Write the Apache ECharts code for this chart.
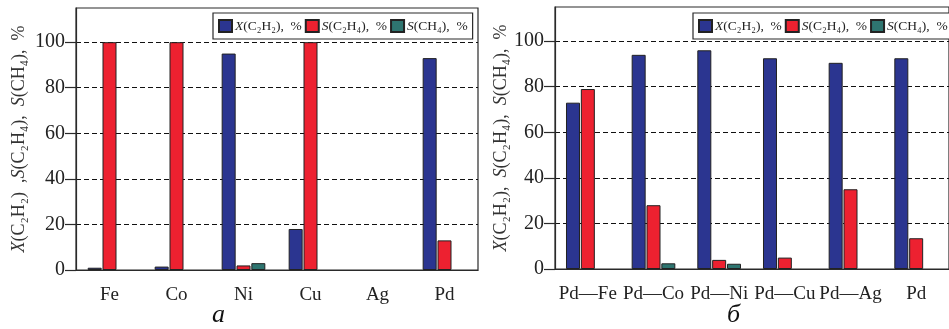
<!DOCTYPE html>
<html>
<head>
<meta charset="utf-8">
<script src="https://cdn.jsdelivr.net/npm/echarts@6/dist/echarts.min.js"></script>
<style>
  html, body { margin: 0; padding: 0; background: #fff; }
  #chart { width: 949px; height: 329px; }
</style>
</head>
<body>
<div id="chart"></div>
<script>
  // категории
  const catsA = ['Fe', 'Co', 'Ni', 'Cu', 'Ag', 'Pd']
  const catsB = ['Pd—Fe', 'Pd—Co', 'Pd—Ni', 'Pd—Cu', 'Pd—Ag', 'Pd']
  // значения (null = столбца нет)
  const xC2H2A = [1, 1.5, 95, 18, null, 93]
  const sC2H4A = [100, 100, 2, 100, null, 13]
  const sCH4A = [null, null, 3, null, null, null]
  const xC2H2B = [73, 94, 96, 92.5, 90.5, 92.5]
  const sC2H4B = [79, 28, 4, 5, 35, 13.5]
  const sCH4B = [null, 2.5, 2.3, null, null, null]
  const yTicks = [0, 20, 40, 60, 80, 100]

  const names = ['X(C2H2)', 'S(C2H4)', 'S(CH4)']
  const colors = ['#2b3590', '#ed2130', '#2e7570']
  const font = '"Liberation Serif", "DejaVu Serif", serif'
  const ink = '#2a2a2a'

  // подписи легенды
  const legendText = {
    'X(C2H2)': '{i|X}(C₂H₂),  %',
    'S(C2H4)': '{i|S}(C₂H₄),  %',
    'S(CH4)': '{i|S}(CH₄),  %'
  }
  const yName = (comma) => '{i|X}(C₂H₂)' + comma + '{i|S}(C₂H₄),  {i|S}(CH₄),  %'

  let mycharts = echarts.init(document.getElementById('chart'))

  function xAxis(cats, idx) {
    return {
      type: 'category', gridIndex: idx, data: cats,
      axisLine: { lineStyle: { color: ink, width: 1.2 } },
      axisTick: { length: 13, lineStyle: { color: ink, width: 1.2 } },
      axisLabel: { interval: 0, color: '#222', fontFamily: font, fontSize: 19, margin: 16 }
    }
  }
  function yAxis(idx, comma, gap) {
    return {
      type: 'value', gridIndex: idx, min: 0, max: 115, interval: 20,
      name: yName(comma), nameLocation: 'middle', nameGap: gap, nameRotate: 90,
      nameTextStyle: { color: '#333', fontFamily: font, fontSize: 18, rich: { i: { fontStyle: 'italic', fontFamily: font, fontSize: 18, color: '#333' } } },
      axisLine: { show: true, lineStyle: { color: ink, width: 1.2 } },
      axisTick: { show: true, length: 11, customValues: yTicks, lineStyle: { color: ink, width: 1.2 } },
      axisLabel: { color: '#222', fontFamily: font, fontSize: 20, margin: 11, customValues: yTicks },
      splitLine: { show: true, lineStyle: { color: '#111', type: [5, 3], width: 1.2 } }
    }
  }
  function bars(data, i, idx) {
    return {
      name: names[i], type: 'bar', xAxisIndex: idx, yAxisIndex: idx, data: data,
      barWidth: 14, barGap: '6%',
      itemStyle: { color: colors[i], borderColor: '#222', borderWidth: 1 }
    }
  }
  function legend(left) {
    return {
      left: left, top: 13, width: 400, data: names, orient: 'horizontal',
      icon: 'rect', itemWidth: 13, itemHeight: 12, itemGap: 3,
      padding: [6, 5], borderColor: ink, borderWidth: 1.2, backgroundColor: '#fff',
      formatter: (n) => legendText[n],
      textStyle: { color: '#222', fontFamily: font, fontSize: 13.5, padding: [0, 0, 0, -2],
        rich: { i: { fontStyle: 'italic', fontFamily: font, fontSize: 13.5, color: '#222' } } },
      selectedMode: false
    }
  }

  mycharts.setOption({
    animation: false,
    grid: [
      { left: 76, top: 8, width: 402, height: 262, show: true, borderColor: ink, borderWidth: 1.2 },
      { left: 555, top: 7, width: 405, height: 262, show: true, borderColor: ink, borderWidth: 1.2 }
    ],
    xAxis: [xAxis(catsA, 0), xAxis(catsB, 1)],
    yAxis: [yAxis(0, '  ,', 48), yAxis(1, ',  ', 45)],
    legend: [legend(213), legend(693)],
    series: [
      bars(xC2H2A, 0, 0), bars(sC2H4A, 1, 0), bars(sCH4A, 2, 0),
      bars(xC2H2B, 0, 1), bars(sC2H4B, 1, 1), bars(sCH4B, 2, 1)
    ],
    graphic: [
      { type: 'text', left: 212, top: 302, style: { text: 'а', font: 'italic 26px ' + font, fill: '#111' } },
      { type: 'text', left: 727, top: 302, style: { text: 'б', font: 'italic 26px ' + font, fill: '#111' } }
    ]
  })
</script>
</body>
</html>
